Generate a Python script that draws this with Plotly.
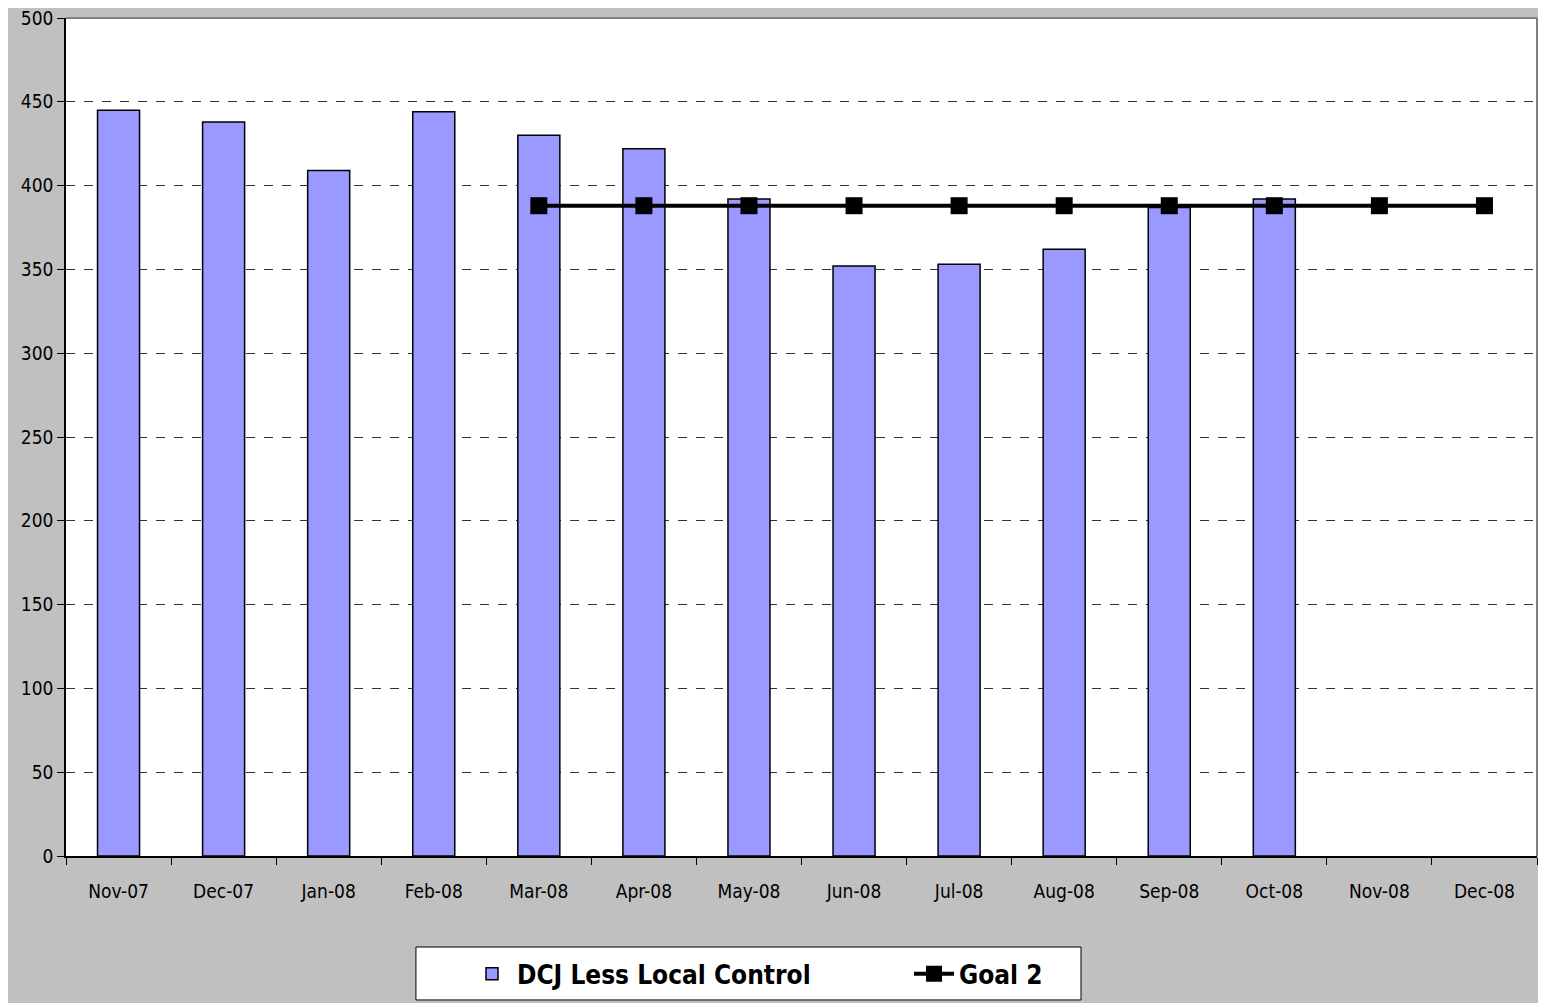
import plotly.graph_objects as go

months = ["Nov-07", "Dec-07", "Jan-08", "Feb-08", "Mar-08", "Apr-08", "May-08",
          "Jun-08", "Jul-08", "Aug-08", "Sep-08", "Oct-08", "Nov-08", "Dec-08"]
dcj_values = [445, 438, 409, 444, 430, 422, 392, 352, 353, 362, 387, 392, None, None]
goal_values = [None, None, None, None, 388, 388, 388, 388, 388, 388, 388, 388, 388, 388]
y_ticks = [0, 50, 100, 150, 200, 250, 300, 350, 400, 450, 500]

FONT = "DejaVu Sans Condensed, Liberation Sans Narrow, Liberation Sans, Arial"

fig = go.Figure()
fig.add_trace(go.Bar(
    x=months, y=dcj_values, name="DCJ Less Local Control",
    marker=dict(color="#9999FF", line=dict(color="#000000", width=1.5)),
    width=0.4, legend="legend",
))
fig.add_trace(go.Scatter(
    x=months, y=goal_values, name="Goal 2", mode="lines+markers",
    line=dict(color="#000000", width=4),
    marker=dict(symbol="square", size=17, color="#000000"),
    legend="legend2",
))

legend_font = dict(family=FONT, size=26, color="#000000", weight="bold")
fig.update_layout(
    width=1538, height=995,
    paper_bgcolor="#C0C0C0", plot_bgcolor="#FFFFFF",
    margin=dict(l=58, r=9, t=10, b=147, autoexpand=False),
    font=dict(family=FONT, size=19, color="#000000"),
    showlegend=True,
    legend=dict(
        x=0.2726, xanchor="left", y=-0.1125, yanchor="top",
        bgcolor="rgba(0,0,0,0)", borderwidth=0,
        font=legend_font, itemwidth=40,
    ),
    legend2=dict(
        x=0.5731, xanchor="left", y=-0.1125, yanchor="top",
        bgcolor="rgba(0,0,0,0)", borderwidth=0,
        font=legend_font, itemwidth=40,
    ),
)
fig.update_xaxes(
    type="category", range=[-0.5, 13.5], automargin=False,
    showline=True, linecolor="#000000", linewidth=1.5,
    ticks="outside", tickson="boundaries", ticklen=7, tickcolor="#000000",
    showgrid=False, tickfont=dict(family=FONT, size=19), ticklabelstandoff=17,
)
fig.update_yaxes(
    range=[0, 500], tickvals=y_ticks, automargin=False,
    showline=True, linecolor="#000000", linewidth=1.5,
    ticks="outside", ticklen=7, tickcolor="#000000",
    showgrid=True, gridcolor="#333333", griddash="dash", gridwidth=1,
    zeroline=False, tickfont=dict(family=FONT, size=19),
    ticklabeloverflow="allow",
)
fig.add_shape(type="line", xref="paper", yref="paper", x0=0, x1=1, y0=1, y1=1,
              line=dict(color="#808080", width=2))
fig.add_shape(type="line", xref="paper", yref="paper", x0=1, x1=1, y0=0, y1=1,
              line=dict(color="#808080", width=2))
fig.add_shape(type="rect", xref="paper", yref="paper",
              x0=0.2379, x1=0.6900, y0=-0.1718, y1=-0.1086,
              fillcolor="#FFFFFF", line=dict(color="#000000", width=1))

fig.write_html("out.html")
